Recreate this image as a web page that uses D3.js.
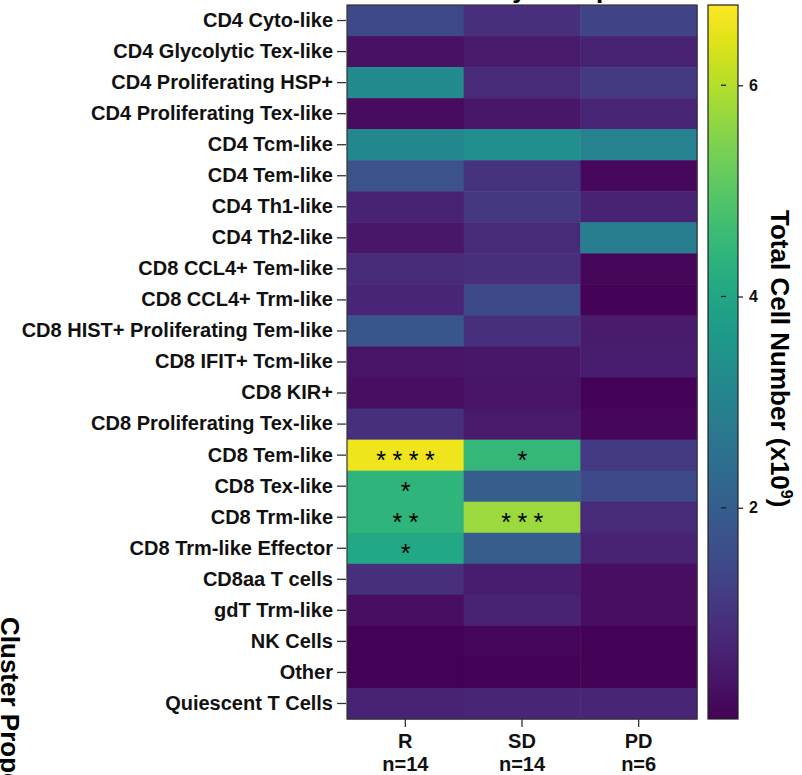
<!DOCTYPE html>
<html>
<head>
<meta charset="utf-8">
<script src="https://cdn.jsdelivr.net/npm/d3@7"></script>
<style>
  body { margin: 0; background: #fff; }
  svg { display: block; font-family: "Liberation Sans", Arial, sans-serif; font-weight: bold; }
</style>
</head>
<body>
<svg id="heatmap" width="802" height="775"></svg>
<script>
// clusters, top to bottom
const clusters = [
  "CD4 Cyto-like", "CD4 Glycolytic Tex-like", "CD4 Proliferating HSP+",
  "CD4 Proliferating Tex-like", "CD4 Tcm-like", "CD4 Tem-like", "CD4 Th1-like",
  "CD4 Th2-like", "CD8 CCL4+ Tem-like", "CD8 CCL4+ Trm-like",
  "CD8 HIST+ Proliferating Tem-like", "CD8 IFIT+ Tcm-like", "CD8 KIR+",
  "CD8 Proliferating Tex-like", "CD8 Tem-like", "CD8 Tex-like", "CD8 Trm-like",
  "CD8 Trm-like Effector", "CD8aa T cells", "gdT Trm-like", "NK Cells", "Other",
  "Quiescent T Cells"
];
const groups = ["R", "SD", "PD"];
const groupN = ["n=14", "n=14", "n=6"];

// total cell number (x10^9), one value per cluster
const valuesR  = [1.5, 0.3, 3.2, 0.2, 3.15, 1.7, 0.65, 0.4, 0.8, 0.7, 1.8, 0.35, 0.25, 0.95, 6.6, 4.4, 4.4, 4.05, 0.9, 0.25, 0.05, 0.03, 0.65];
const valuesSD = [0.9, 0.45, 0.8, 0.4, 3.35, 1.0, 1.1, 0.8, 0.9, 1.5, 0.95, 0.4, 0.35, 0.45, 4.5, 2.0, 5.75, 2.0, 0.55, 0.65, 0.08, 0.03, 0.7];
const valuesPD = [1.35, 0.65, 1.15, 0.7, 3.0, 0.15, 0.65, 2.85, 0.1, 0.05, 0.5, 0.55, 0.05, 0.1, 1.15, 1.5, 0.8, 0.65, 0.25, 0.25, 0.05, 0.03, 0.7];

// significance marks [cluster, group, stars]
const stars = [
  ["CD8 Tem-like", "R", "****"], ["CD8 Tem-like", "SD", "*"],
  ["CD8 Tex-like", "R", "*"],
  ["CD8 Trm-like", "R", "**"], ["CD8 Trm-like", "SD", "***"],
  ["CD8 Trm-like Effector", "R", "*"]
];

const colorTicks = [2, 4, 6];
const colorMax = 6.76;

const series = { R: valuesR, SD: valuesSD, PD: valuesPD };
const cells = [];
groups.forEach(g => {
  clusters.forEach((c, i) => cells.push({ cluster: c, group: g, value: series[g][i] }));
});

const svg = d3.select("#heatmap");

const x = d3.scaleBand().domain(groups).range([347, 697]);
const y = d3.scaleBand().domain(clusters).range([5, 719]);
const color = d3.scaleSequential(d3.interpolateViridis).domain([0, colorMax]);

// cells
svg.append("g")
  .selectAll("rect")
  .data(cells)
  .join("rect")
  .attr("x", d => x(d.group))
  .attr("y", d => y(d.cluster))
  .attr("width", x.bandwidth() + 0.5)
  .attr("height", y.bandwidth() + 0.5)
  .attr("fill", d => color(d.value));

// frame
svg.append("rect")
  .attr("x", 347).attr("y", 5)
  .attr("width", 350).attr("height", 714)
  .attr("fill", "none")
  .attr("stroke", "#333").attr("stroke-width", 1.2);

// stars
svg.append("g")
  .selectAll("text")
  .data(stars)
  .join("text")
  .attr("x", d => x(d[1]) + x.bandwidth() / 2 + 3.5)
  .attr("y", d => y(d[0]) + y.bandwidth() / 2 + 14)
  .attr("text-anchor", "middle")
  .attr("font-size", 25)
  .attr("font-weight", "normal")
  .attr("letter-spacing", 6.5)
  .attr("fill", "#000")
  .text(d => d[2]);

// y axis (clusters)
const yAxis = svg.append("g")
  .attr("transform", "translate(346,0)")
  .call(d3.axisLeft(y).tickSize(9).tickPadding(4));
yAxis.select(".domain").remove();
yAxis.selectAll("line").attr("stroke", "#333").attr("stroke-width", 1.3);
yAxis.selectAll("text")
  .attr("font-size", 20)
  .attr("font-family", "Liberation Sans, Arial, sans-serif")
  .attr("font-weight", "bold")
  .attr("fill", "#111");

// x axis (groups)
const xAxis = svg.append("g")
  .attr("transform", "translate(0,719)")
  .call(d3.axisBottom(x).tickSize(8).tickFormat(""));
xAxis.select(".domain").remove();
xAxis.selectAll("line").attr("stroke", "#333").attr("stroke-width", 1.3);

const xl = svg.append("g").selectAll("text")
  .data(groups)
  .join("text")
  .attr("x", d => x(d) + x.bandwidth() / 2)
  .attr("text-anchor", "middle")
  .attr("font-size", 20)
  .attr("fill", "#111");
xl.append("tspan").attr("x", d => x(d) + x.bandwidth() / 2).attr("y", 748).text(d => d);
xl.append("tspan").attr("x", d => x(d) + x.bandwidth() / 2).attr("y", 771)
  .text((d, i) => groupN[i]);

// colour bar
const cy = d3.scaleLinear().domain([0, colorMax]).range([719, 5]);
const grad = svg.append("defs").append("linearGradient")
  .attr("id", "viridis")
  .attr("x1", 0).attr("y1", 1).attr("x2", 0).attr("y2", 0);
grad.selectAll("stop")
  .data(d3.range(0, 1.0001, 0.05))
  .join("stop")
  .attr("offset", d => d)
  .attr("stop-color", d => color(d * colorMax));

svg.append("rect")
  .attr("x", 708).attr("y", 5)
  .attr("width", 30).attr("height", 714)
  .attr("fill", "url(#viridis)")
  .attr("stroke", "#222").attr("stroke-width", 1.2);

const cAxis = svg.append("g")
  .attr("transform", "translate(738,0)")
  .call(d3.axisRight(cy).tickValues(colorTicks).tickFormat(d3.format("d")).tickSize(5).tickPadding(6));
cAxis.select(".domain").remove();
cAxis.selectAll("line").attr("stroke", "#222").attr("stroke-width", 1.3);
cAxis.selectAll("text")
  .attr("font-size", 16)
  .attr("font-family", "Liberation Sans, Arial, sans-serif")
  .attr("font-weight", "bold")
  .attr("fill", "#111");
// inner tick marks on the bar
svg.append("g").selectAll("line")
  .data(colorTicks)
  .join("line")
  .attr("x1", 721).attr("x2", 726)
  .attr("y1", d => cy(d)).attr("y2", d => cy(d))
  .attr("stroke", "#222").attr("stroke-width", 1.3);

// colour bar title
const ct = svg.append("text")
  .attr("transform", "translate(771,210) rotate(90)")
  .attr("font-size", 26)
  .attr("fill", "#000");
ct.append("tspan").text("Total Cell Number (x10");
ct.append("tspan").attr("font-size", 16).attr("dy", -10).text("9");
ct.append("tspan").attr("dy", 10).text(")");

// chart title, mostly cut off at the top
svg.append("text")
  .attr("x", 612).attr("y", -2.5)
  .attr("text-anchor", "end")
  .attr("font-size", 26)
  .text("Total Cell Number by Group");

// left axis title, cut off at the bottom
svg.append("text")
  .attr("transform", "translate(1,617) rotate(90)")
  .attr("font-size", 26)
  .attr("fill", "#000")
  .text("Cluster Proportion");
</script>
</body>
</html>
